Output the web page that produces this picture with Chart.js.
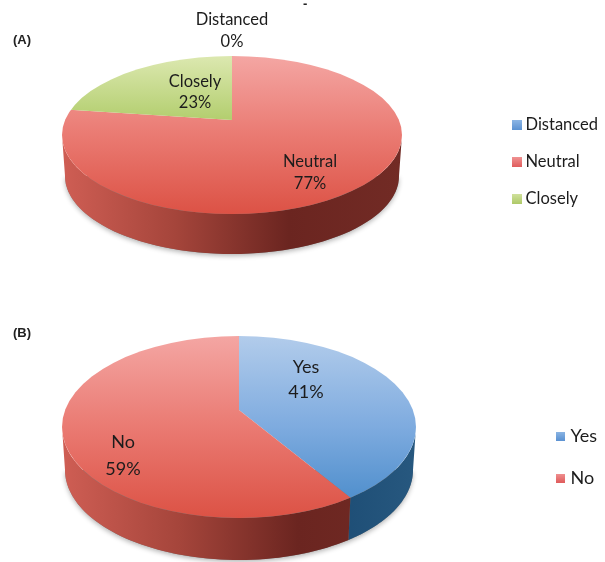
<!DOCTYPE html>
<html>
<head>
<meta charset="utf-8">
<script src="https://cdn.jsdelivr.net/npm/chart.js@4"></script>
<style>
  html, body { margin: 0; padding: 0; background: #fff; }
  canvas { position: absolute; left: 0; filter: blur(0.4px); }
  #chartA { top: 0; }
  #chartB { top: 300px; }
</style>
</head>
<body>
<canvas id="chartA" width="605" height="300"></canvas>
<canvas id="chartB" width="605" height="262"></canvas>
<script>
// Panel A
var labelsA = ['Distanced', 'Neutral', 'Closely'];
var valuesA = [0, 77, 23];
// Panel B
var labelsB = ['Yes', 'No'];
var valuesB = [41, 59];

var BLUE = { top: ['#b2cceb', '#7eabdf', '#4488c8'], wall: ['#1c4c74', '#1c4c74', '#1c4c74', '#1c4c74', '#27587f'], legend: ['#8db6e5', '#5c92d2'] };
var RED = { top: ['#f4a6a3', '#ea7a72', '#dc5245'], wall: ['#cf5e54', '#a5453b', '#6b2520', '#722b25'], legend: ['#f09292', '#e05c5c'] };
var GREEN = { top: ['#dce8b0', '#a9c85f', '#93b548'], wall: ['#7f9a3c', '#5d722a'], legend: ['#d0e19c', '#aec968'] };

var SQUASH = 0.5;

// Ray from the apex at a chart.js angle, hit point on the rim, as ellipse parameter
function rimParam(g, angle) {
  var dx = Math.cos(angle), dy = SQUASH * Math.sin(angle);
  var ox = (g.apexX - g.cx) / g.rx, oy = (g.apexY - g.cy) / g.ry;
  var ux = dx / g.rx, uy = dy / g.ry;
  var a = ux * ux + uy * uy, b = 2 * (ox * ux + oy * uy), c = ox * ox + oy * oy - 1;
  var s = (-b + Math.sqrt(b * b - 4 * a * c)) / (2 * a);
  return Math.atan2(oy + s * uy, ox + s * ux);
}

function wallSegment(ctx, g, from, to, style) {
  if (to <= from) return;
  var steps = 60, i, t;
  ctx.beginPath();
  for (i = 0; i <= steps; i++) {
    t = from + (to - from) * i / steps;
    ctx.lineTo(g.cx + g.rx * Math.cos(t), g.cy + g.ry * Math.sin(t));
  }
  for (i = steps; i >= 0; i--) {
    t = from + (to - from) * i / steps;
    ctx.lineTo(g.cx + (g.rx - 3) * Math.cos(t), g.cy + g.depth + (g.ry - 1) * Math.sin(t));
  }
  ctx.closePath();
  var grad = ctx.createLinearGradient(g.cx - g.rx, 0, g.cx + g.rx, 0);
  style.wall.forEach(function (c, i) { grad.addColorStop(i / (style.wall.length - 1), c); });
  ctx.fillStyle = grad;
  ctx.fill();
}

var pie3d = {
  id: 'pie3d',
  beforeDatasetsDraw: function (chart, args, opts) {
    var ctx = chart.ctx, g = opts.geo, arcs = chart.getDatasetMeta(0).data;

    // soft shadow under the side wall
    ctx.save();
    ctx.shadowColor = 'rgba(0,0,0,0.3)';
    ctx.shadowBlur = 5;
    ctx.shadowOffsetY = 2;
    ctx.fillStyle = '#777';
    ctx.beginPath();
    ctx.ellipse(g.cx, g.cy + g.depth, g.rx - 3, g.ry - 1, 0, 0, Math.PI);
    ctx.fill();
    ctx.restore();

    arcs.forEach(function (arc, i) {
      if (arc.endAngle - arc.startAngle <= 0) return;
      var t0 = rimParam(g, arc.startAngle), t1 = rimParam(g, arc.endAngle);
      if (t1 <= t0) t1 += 2 * Math.PI;
      wallSegment(ctx, g, Math.max(t0, 0), Math.min(t1, Math.PI), opts.styles[i]);
      wallSegment(ctx, g, Math.max(t0, 2 * Math.PI), Math.min(t1, 3 * Math.PI), opts.styles[i]);
    });

    // top face: the library's arcs, squashed and cut to the rim
    var el = arcs[0];
    ctx.save();
    ctx.beginPath();
    ctx.ellipse(g.cx, g.cy, g.rx, g.ry, 0, 0, 2 * Math.PI);
    ctx.clip();
    ctx.translate(g.apexX, g.apexY);
    ctx.scale(1, SQUASH);
    ctx.translate(-el.x, -el.y);
  },
  afterDatasetsDraw: function (chart, args, opts) {
    var ctx = chart.ctx, values = chart.data.datasets[0].data;
    ctx.restore();
    ctx.fillStyle = '#1c1c1c';
    ctx.textAlign = 'center';
    ctx.textBaseline = 'middle';
    ctx.font = opts.fontSize + 'px Lato';
    opts.spots.forEach(function (p, i) {
      ctx.fillText(chart.data.labels[i], p[0], p[1]);
      ctx.fillText(values[i] + '%', p[0], p[2]);
    });
    ctx.fillStyle = '#222';
    ctx.textAlign = 'left';
    ctx.font = 'bold 13px "Liberation Sans"';
    ctx.fillText(opts.panel, 13, opts.panelY);
    if (opts.stray) {
      ctx.fillText('-', opts.stray[0], opts.stray[1]);
    }
  }
};

function topFill(geo, style) {
  return function (c) {
    var chart = c.chart, area = chart.chartArea;
    var midY = (area.top + area.bottom) / 2;
    // gradient lives in the unsquashed space of the arcs
    var y0 = midY + (geo.cy - geo.ry - geo.apexY) / SQUASH;
    var y1 = midY + (geo.cy + geo.ry - geo.apexY) / SQUASH;
    var grad = chart.ctx.createLinearGradient(0, y0, 0, y1);
    grad.addColorStop(0, style.top[0]);
    grad.addColorStop(0.5, style.top[1]);
    grad.addColorStop(1, style.top[2]);
    return grad;
  };
}

// legend swatch as a small image, so the gap to the text can be set apart from its size
function swatch(colors, size) {
  var cv = document.createElement('canvas');
  cv.width = size;
  cv.height = size;
  var c = cv.getContext('2d');
  var grad = c.createLinearGradient(0, 0, 0, size);
  grad.addColorStop(0, colors[0]);
  grad.addColorStop(1, colors[1]);
  c.fillStyle = grad;
  c.fillRect(0, 0, size, size);
  return cv;
}

function makePie(id, labels, values, styles, geo, extra) {
  return new Chart(document.getElementById(id).getContext('2d'), {
    type: 'pie',
    data: {
      labels: labels,
      datasets: [{
        data: values,
        borderWidth: 0,
        clip: false,
        backgroundColor: function (c) { return topFill(geo, styles[c.dataIndex])(c); }
      }]
    },
    options: {
      responsive: false,
      animation: false,
      radius: 230,
      layout: { padding: { top: extra.padTop, right: extra.padRight } },
      plugins: {
        tooltip: { enabled: false },
        legend: {
          position: 'right',
          labels: {
            usePointStyle: true,
            boxWidth: extra.legendBox,
            boxHeight: 10,
            padding: extra.legendGap,
            color: '#1c1c1c',
            font: { family: 'Lato', size: extra.legendSize },
            generateLabels: function () {
              return labels.map(function (t, i) {
                return { text: t, pointStyle: swatch(styles[i].legend, extra.swatchSize), fontColor: '#1c1c1c', lineWidth: 0, index: i };
              });
            }
          }
        },
        pie3d: { geo: geo, styles: styles, spots: extra.spots, fontSize: extra.fontSize, panel: extra.panel, panelY: extra.panelY, stray: extra.stray }
      }
    },
    plugins: [pie3d]
  });
}

makePie('chartA', labelsA, valuesA, [BLUE, RED, GREEN],
  { apexX: 232, apexY: 120, cx: 232, cy: 135, rx: 170, ry: 79, depth: 41 },
  { padTop: 24, padRight: -3, legendGap: 20.5, legendSize: 16.5, legendBox: 1.5, swatchSize: 10, fontSize: 16.5, panel: '(A)', panelY: 40, stray: [303, 4],
    spots: [[232, 20, 42], [310, 162, 184], [195, 82, 103]] });

makePie('chartB', labelsB, valuesB, [BLUE, RED],
  { apexX: 239, apexY: 110, cx: 239, cy: 127, rx: 177, ry: 91, depth: 43 },
  { padTop: 52, padRight: -2, legendGap: 24, legendSize: 18, legendBox: 1, swatchSize: 9, fontSize: 18, panel: '(B)', panelY: 33,
    spots: [[306, 67, 92], [123, 142, 169]] });
</script>
</body>
</html>
